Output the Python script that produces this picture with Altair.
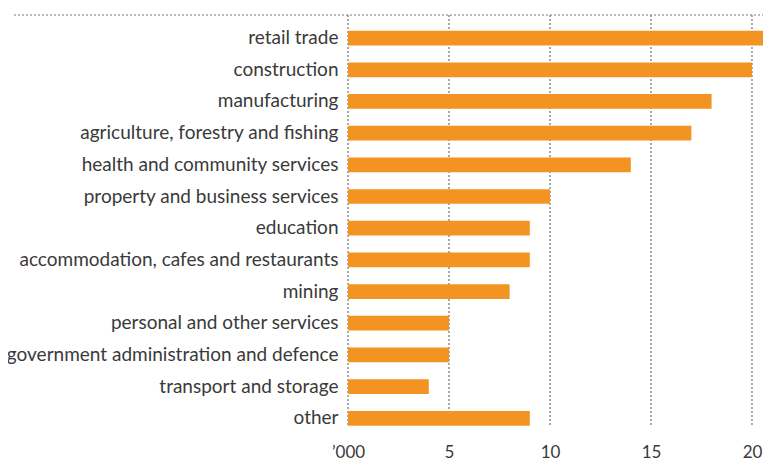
import altair as alt
import pandas as pd

categories = [
    "retail trade", "construction", "manufacturing",
    "agriculture, forestry and fishing", "health and community services",
    "property and business services", "education",
    "accommodation, cafes and restaurants", "mining",
    "personal and other services", "government administration and defence",
    "transport and storage", "other",
]
values = [21, 20, 18, 17, 14, 10, 9, 9, 8, 5, 5, 4, 9]
tick_values = [0, 5, 10, 15, 20]
tick_labels = ["\u2019000", "5", "10", "15", "20"]

df = pd.DataFrame({"category": categories, "value": values})
grid_df = pd.DataFrame({"x": tick_values})

LEFT, RIGHT = 340, 10
W, H = 405, 412
FONT = "Lato"
TXT = "#3a3a3a"

xscale = alt.Scale(domain=[0, 20.05], nice=False, zero=True)
label_expr = "datum.value == 0 ? '\u2019000' : datum.label"

bars = alt.Chart(df).mark_bar(color="#F39322", clip=False).encode(
    x=alt.X("value:Q", scale=xscale,
            axis=alt.Axis(values=tick_values, labelExpr=label_expr, title=None,
                          domain=False, ticks=False, grid=False,
                          labelFont=FONT, labelFontSize=17, labelColor=TXT,
                          labelPadding=17, labelBound=False, labelFlush=False)),
    y=alt.Y("category:N", sort=categories,
            scale=alt.Scale(paddingInner=0.535, paddingOuter=0.27, align=0.92),
            axis=alt.Axis(title=None, domain=False, ticks=False, grid=False,
                          labelFont=FONT, labelFontSize=19, labelColor=TXT,
                          labelPadding=10, labelLimit=400)),
)

grid = alt.Chart(grid_df).mark_rule(color="#555555", strokeDash=[2, 2], strokeWidth=1).encode(
    x=alt.X("x:Q", scale=xscale),
    y=alt.value(0),
    y2=alt.value(H),
)

top = alt.Chart(grid_df.head(1)).mark_rule(color="#777777", strokeDash=[2, 2], strokeWidth=1).encode(
    x=alt.value(-334),
    x2=alt.value(W + RIGHT),
    y=alt.value(0),
)

chart = alt.layer(grid, top, bars).properties(
    width=W, height=H,
    autosize=alt.AutoSizeParams(type="none"),
    padding={"left": LEFT, "top": 7, "right": RIGHT, "bottom": 34},
).configure_view(stroke=None)

chart.save("out.html", embed_options={"renderer": "svg", "actions": False})
